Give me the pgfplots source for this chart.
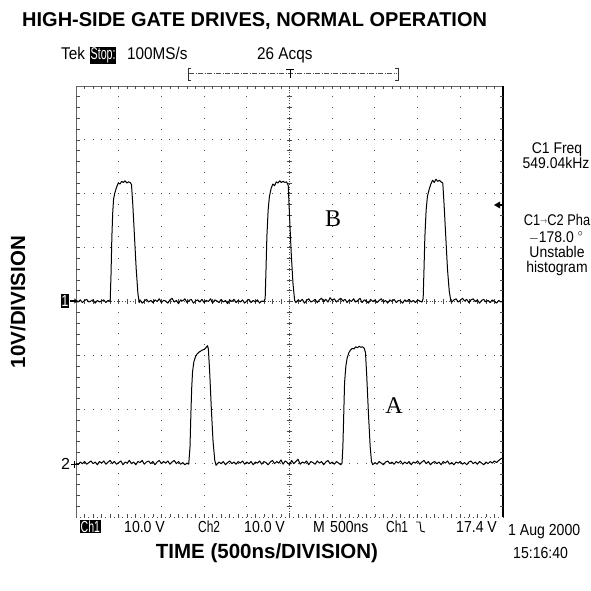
\documentclass[border=0pt]{standalone}
\usepackage{pgfplots}
\pgfplotsset{compat=1.18}
\usepackage{fontspec}
\setmainfont{Liberation Sans}
\newfontfamily\seriffont{Liberation Serif}
\usetikzlibrary{arrows.meta}

% channel 1 (upper trace, B)
\pgfplotstableread{
t v
0.00 4.01
0.05 3.99
0.10 4.03
0.15 3.98
0.20 4.02
0.25 4.04
0.30 3.99
0.35 4.01
0.40 4.03
0.45 3.97
0.50 4.02
0.55 3.99
0.60 4.01
0.65 4.03
0.70 3.98
0.75 4.02
0.80 4.00
0.82 4.5
0.84 5.2
0.86 5.65
0.88 5.9
0.91 6.02
0.95 6.12
0.99 6.2
1.03 6.18
1.07 6.23
1.11 6.21
1.15 6.24
1.19 6.2
1.23 6.22
1.27 6.21
1.30 6.17
1.33 5.8
1.37 5.2
1.41 4.6
1.45 4.15
1.48 3.98
1.50 4.03
1.55 3.97
1.60 4.01
1.65 4.04
1.70 3.99
1.75 4.02
1.80 3.98
1.85 4.03
1.90 4.00
1.95 4.05
2.00 3.98
2.05 4.02
2.10 4.01
2.15 3.97
2.20 4.03
2.25 4.06
2.30 3.99
2.35 4.02
2.40 3.96
2.45 4.03
2.50 4.01
2.55 4.05
2.60 3.98
2.65 4.02
2.70 4.04
2.75 3.97
2.80 4.01
2.85 4.03
2.90 3.99
2.95 4.04
3.00 3.98
3.05 4.02
3.10 4.00
3.15 4.05
3.20 3.97
3.25 4.03
3.30 4.01
3.35 3.98
3.40 4.04
3.45 3.99
3.50 4.02
3.55 3.96
3.60 4.03
3.65 4.00
3.70 4.04
3.75 3.98
3.80 4.02
3.85 3.99
3.90 4.03
3.95 3.97
4.00 4.01
4.05 4.04
4.10 3.98
4.15 4.02
4.20 3.99
4.25 4.03
4.30 3.97
4.35 4.01
4.40 4.00
4.43 4.05
4.45 4.6
4.47 5.2
4.50 5.7
4.53 5.95
4.57 6.1
4.61 6.18
4.65 6.15
4.69 6.22
4.73 6.2
4.77 6.24
4.81 6.21
4.85 6.23
4.89 6.21
4.93 6.22
4.97 6.16
5.00 5.6
5.04 4.9
5.08 4.35
5.12 4.02
5.15 3.98
5.20 4.03
5.25 4.00
5.30 4.04
5.35 3.97
5.40 4.02
5.45 4.05
5.50 3.99
5.55 4.01
5.60 4.04
5.65 3.98
5.70 4.03
5.75 4.06
5.80 4.00
5.85 4.04
5.90 3.99
5.95 4.07
6.00 4.02
6.05 4.05
6.10 3.99
6.15 4.03
6.20 4.06
6.25 4.01
6.30 4.04
6.35 3.98
6.40 4.03
6.45 4.00
6.50 4.05
6.55 3.99
6.60 4.02
6.65 4.06
6.70 3.98
6.75 4.03
6.80 4.01
6.85 3.97
6.90 4.04
6.95 4.00
7.00 4.03
7.05 3.98
7.10 4.02
7.15 4.05
7.20 3.99
7.25 4.02
7.30 3.97
7.35 4.03
7.40 4.00
7.45 4.04
7.50 3.98
7.55 4.02
7.60 4.01
7.65 3.97
7.70 4.03
7.75 4.00
7.80 4.04
7.85 3.99
7.90 4.02
7.95 3.98
8.00 4.03
8.05 4.01
8.10 3.99
8.13 4.05
8.15 4.6
8.17 5.2
8.20 5.7
8.23 5.95
8.27 6.08
8.31 6.18
8.35 6.25
8.39 6.21
8.43 6.27
8.47 6.23
8.51 6.25
8.55 6.22
8.59 6.2
8.62 5.8
8.66 5.2
8.70 4.6
8.74 4.2
8.78 4.0
8.80 3.99
8.85 4.03
8.90 4.05
8.95 3.99
9.00 4.02
9.05 4.06
9.10 4.01
9.15 4.04
9.20 3.98
9.25 4.03
9.30 4.05
9.35 4.00
9.40 4.03
9.45 3.97
9.50 4.02
9.55 4.04
9.60 3.99
9.65 4.02
9.70 3.98
9.75 4.03
9.80 4.00
9.85 3.97
9.90 4.02
9.95 3.99
10.00 4.01
}\chone

% channel 2 (lower trace, A)
\pgfplotstableread{
t v
0.00 1.00
0.05 0.97
0.10 1.02
0.15 0.99
0.20 1.03
0.25 0.98
0.30 1.01
0.35 1.04
0.40 0.99
0.45 1.02
0.50 0.97
0.55 1.03
0.60 1.00
0.65 1.04
0.70 0.98
0.75 1.02
0.80 1.05
0.85 0.99
0.90 1.03
0.95 0.98
1.00 1.01
1.05 1.04
1.10 0.97
1.15 1.02
1.20 1.00
1.25 1.05
1.30 0.99
1.35 1.02
1.40 0.97
1.45 1.03
1.50 1.01
1.55 1.05
1.60 0.98
1.65 1.02
1.70 1.04
1.75 0.99
1.80 1.03
1.85 0.97
1.90 1.02
1.95 1.05
2.00 0.99
2.05 1.03
2.10 1.00
2.15 1.04
2.20 0.98
2.25 1.02
2.30 1.05
2.35 0.99
2.40 1.03
2.45 0.98
2.50 1.01
2.55 0.97
2.60 1.00
2.64 0.98
2.67 1.3
2.69 1.9
2.71 2.4
2.73 2.7
2.76 2.88
2.80 2.98
2.84 3.03
2.88 3.06
2.92 3.08
2.96 3.10
3.00 3.11
3.04 3.14
3.08 3.18
3.10 3.12
3.13 2.7
3.17 2.0
3.21 1.4
3.25 1.05
3.28 0.96
3.30 0.98
3.35 1.02
3.40 0.99
3.45 1.03
3.50 0.97
3.55 1.01
3.60 1.04
3.65 0.99
3.70 1.02
3.75 0.98
3.80 1.03
3.85 1.00
3.90 1.04
3.95 0.98
4.00 1.02
4.05 0.99
4.10 1.03
4.15 0.97
4.20 1.02
4.25 1.00
4.30 1.04
4.35 0.98
4.40 1.03
4.45 1.01
4.50 0.97
4.55 1.02
4.60 1.05
4.65 0.99
4.70 1.03
4.75 1.00
4.80 1.06
4.85 0.98
4.90 1.04
4.95 1.01
5.00 0.97
5.05 1.05
5.10 0.99
5.15 1.03
5.20 1.07
5.25 0.98
5.30 1.02
5.35 1.00
5.40 1.04
5.45 0.97
5.50 1.03
5.55 1.01
5.60 0.98
5.65 1.04
5.70 1.00
5.75 1.03
5.80 0.97
5.85 1.02
5.90 1.05
5.95 0.99
6.00 1.02
6.05 0.98
6.10 1.03
6.15 1.00
6.20 0.97
6.23 1.00
6.25 1.3
6.27 1.9
6.29 2.5
6.32 2.8
6.35 2.95
6.39 3.05
6.43 3.1
6.47 3.13
6.51 3.12
6.55 3.16
6.59 3.14
6.63 3.17
6.67 3.15
6.71 3.16
6.75 3.13
6.78 3.05
6.81 2.6
6.85 1.9
6.89 1.3
6.92 1.03
6.95 0.97
7.00 1.01
7.05 0.98
7.10 1.03
7.15 1.00
7.20 0.97
7.25 1.02
7.30 1.04
7.35 0.99
7.40 1.02
7.45 0.98
7.50 1.03
7.55 1.00
7.60 1.04
7.65 0.98
7.70 1.02
7.75 0.99
7.80 1.03
7.85 0.97
7.90 1.02
7.95 1.00
8.00 1.04
8.05 0.98
8.10 1.02
8.15 1.05
8.20 0.99
8.25 1.03
8.30 0.97
8.35 1.01
8.40 1.03
8.45 0.99
8.50 1.02
8.55 0.97
8.60 1.03
8.65 1.00
8.70 1.04
8.75 0.98
8.80 1.01
8.85 0.97
8.90 1.02
8.95 1.00
9.00 1.03
9.05 0.98
9.10 1.01
9.15 0.97
9.20 1.02
9.25 1.04
9.30 0.99
9.35 1.02
9.40 0.98
9.45 1.03
9.50 1.00
9.55 0.97
9.60 1.02
9.65 0.99
9.70 1.03
9.75 1.00
9.80 1.04
9.85 1.01
9.90 1.05
9.95 1.08
10.00 1.10
}\chtwo

\newcommand{\scopefont}{\fontsize{16}{18}\selectfont}
\newcommand{\topfont}{\fontsize{17}{19}\selectfont}
\newcommand{\inv}[1]{{\setlength{\fboxsep}{0.8pt}\colorbox{black}{\textcolor{white}{#1}}}}

\begin{document}
\begin{tikzpicture}[x=1pt,y=1pt]
\path[use as bounding box] (0,0) rectangle (591,590);

% screen graticule: 10 x 8 divisions
\begin{scope}[shift={(76,73)},x=42.7pt,y=53.875pt]
  \foreach \v in {1,2,3,5,6,7}
    \draw[black!70,line width=1pt,dash pattern=on 1pt off 7.54pt,dash phase=0.5pt] (0,\v) -- (10,\v);
  \foreach \t in {1,2,3,4,6,7,8,9}
    \draw[black!70,line width=1pt,dash pattern=on 1pt off 9.775pt,dash phase=0.5pt] (\t,0) -- (\t,8);
  % centre cross with fine ticks
  \draw[black!70,line width=0.8pt,dash pattern=on 0.9pt off 1.8pt] (5,0) -- (5,8);
  \draw[black!70,line width=0.8pt,dash pattern=on 0.9pt off 1.8pt] (0,4) -- (10,4);
  \foreach \i in {1,...,39}
    \draw[black!70,line width=0.6pt] (5,\i/5) ++(-2.5pt,0) -- ++(5pt,0);
  \foreach \i in {1,...,49}
    \draw[black!70,line width=0.6pt] (\i/5,4) ++(0,-2.5pt) -- ++(0,5pt);
  % frame with inner ticks
  \draw[black!60,line width=0.7pt] (0,0) -- (0,8) -- (10,8);
  \draw[black!70,line width=0.8pt,dash pattern=on 1pt off 3.27pt,dash phase=0.5pt] (0,0) -- (10,0);
  \draw[black,line width=1.3pt] (10,0) -- (10,8);
  \foreach \i in {1,...,39} {
    \draw[black!70,line width=0.6pt] (0,\i/5) -- ++(3.5pt,0);
    \draw[black!70,line width=0.6pt] (10,\i/5) -- ++(-3.5pt,0);
  }
  \foreach \i in {1,...,49} {
    \draw[black!70,line width=0.6pt] (\i/5,8) -- ++(0,-3.5pt);
    \draw[black!70,line width=0.6pt] (\i/5,0) -- ++(0,3.5pt);
  }
\end{scope}

\begin{axis}[
  at={(76pt,73pt)}, anchor=south west,
  scale only axis, width=427pt, height=431pt,
  xmin=0, xmax=10, ymin=0, ymax=8,
  hide axis, clip=false,
]
  \addplot[black, line width=1pt, line join=round] table[x=t,y=v] {\chone};
  \addplot[black, line width=1pt, line join=round] table[x=t,y=v] {\chtwo};
\end{axis}

% trace labels
\node[font=\seriffont\fontsize{24}{26}\selectfont] at (333,371) {B};
\node[font=\seriffont\fontsize{24}{26}\selectfont] at (394,184) {A};

% channel ground markers
\node[fill=black,text=white,inner sep=1pt,minimum height=12pt,font=\scopefont,xscale=0.8] at (65,289) {1};
\draw[black,line width=1.1pt,-{Stealth[length=4pt,width=5pt]}] (69.5,289) -- (78,289);
\node[anchor=base west,inner sep=0pt,font=\scopefont] at (61,120.5) {2};
\draw[black,line width=0.8pt] (71,126) -- (78,126) (74.5,122.5) -- (74.5,129.5);

% top status line
\begin{scope}[every node/.style={font=\topfont,xscale=0.9,inner sep=0pt,anchor=base west}]
  \node at (61,530) {Tek};
  \node[xscale=0.7] at (90,530) {\inv{Stop:}};
  \node at (127,530) {100MS/s};
  \node at (257,530) {26 Acqs};
\end{scope}
\draw[black!80,line width=0.8pt] (191,522) -- (188,522) -- (188,510) -- (191,510);
\draw[black!80,line width=0.8pt] (395,522) -- (398,522) -- (398,510) -- (395,510);
\draw[black!70,line width=0.7pt,dash pattern=on 5pt off 1.5pt on 1pt off 1.5pt] (189,517) -- (397,517);
\draw[black,line width=0.9pt] (286,521) -- (294,521) (290,521) -- (290,512);

% right side readouts
\begin{scope}[every node/.style={font=\fontsize{15.5}{17}\selectfont,xscale=0.9,inner sep=0pt,
    text height=10.5pt,text depth=2.5pt}]
  \node at (557,440) {C1 Freq};
  \node at (556,425) {549.04kHz};
  \node[xscale=0.92] at (557,369) {C1\raisebox{0.2ex}{\scalebox{0.6}{$\rightarrow$}}C2 Pha};
  \node at (556,352) {$-$178.0 $^{\circ}$};
  \node at (557,337) {Unstable};
  \node at (557,322) {histogram};
\end{scope}
\fill[black] (494,385) -- (500,388.5) -- (500,381.5) -- cycle;
\draw[black,line width=1pt] (499,385) -- (503,385);

% bottom status line
\begin{scope}[every node/.style={font=\scopefont,xscale=0.88,inner sep=0pt,anchor=base west}]
  \node[xscale=0.75] at (80,58) {\inv{Ch1}};
  \node at (124,58) {10.0 V};
  \node[xscale=0.85] at (198,58) {Ch2};
  \node at (244,58) {10.0 V};
  \node at (313,58) {M};
  \node at (330,58) {500ns};
  \node[xscale=0.85] at (386,58) {Ch1};
  \node at (456,58) {17.4 V};
  \node at (508,55) {1 Aug 2000};
  \node at (513,32) {15:16:40};
\end{scope}
\draw[black,line width=0.9pt] (416,68) -- (420,68) -- (421,59) -- (425,58);

% titles and axis labels
\node[anchor=base west,inner sep=0pt,font=\fontsize{20}{22}\selectfont\bfseries] at (22,563) {HIGH-SIDE GATE DRIVES, NORMAL OPERATION};
\node[rotate=90,inner sep=0pt,font=\fontsize{20.5}{22}\selectfont\bfseries] at (18,288) {10V/DIVISION};
\node[inner sep=0pt,font=\fontsize{20.5}{22}\selectfont\bfseries] at (267,37) {TIME (500ns/DIVISION)};
\end{tikzpicture}
\end{document}
